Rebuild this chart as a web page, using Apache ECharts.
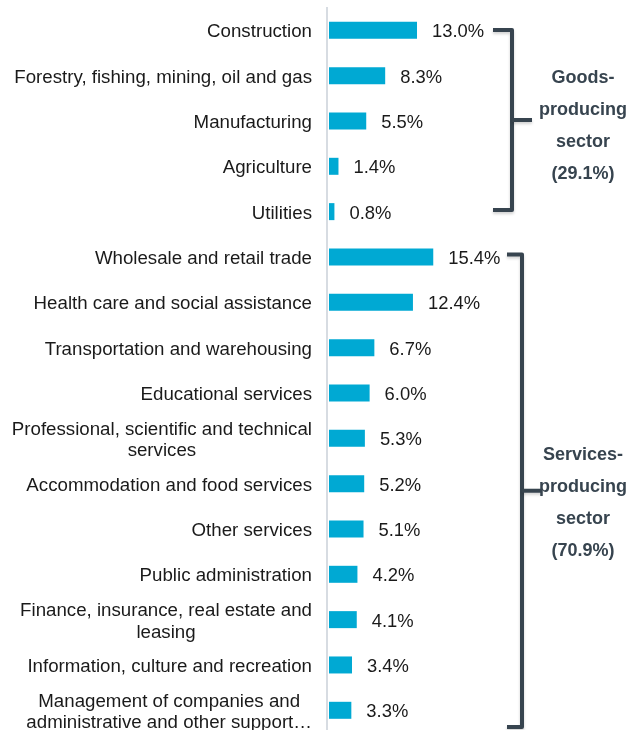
<!DOCTYPE html>
<html>
<head>
<meta charset="utf-8">
<script src="https://cdn.jsdelivr.net/npm/echarts@6/dist/echarts.min.js"></script>
<style>
  html, body { margin: 0; padding: 0; background: #ffffff; }
  #chart { width: 637px; height: 730px; }
</style>
</head>
<body>
<div id="chart"></div>
<script>
// Industries, top to bottom (two-line labels are split with \n)
const industries = [
  'Construction',
  'Forestry, fishing, mining, oil and gas',
  'Manufacturing',
  'Agriculture',
  'Utilities',
  'Wholesale and retail trade',
  'Health care and social assistance',
  'Transportation and warehousing',
  'Educational services',
  'Professional, scientific and technical\nservices',
  'Accommodation and food services',
  'Other services',
  'Public administration',
  'Finance, insurance, real estate and\nleasing',
  'Information, culture and recreation',
  'Management of companies and\nadministrative and other support\u2026'
];

// Share of employment by industry (%)
const shares = [13.0, 8.3, 5.5, 1.4, 0.8, 15.4, 12.4, 6.7, 6.0, 5.3, 5.2, 5.1, 4.2, 4.1, 3.4, 3.3];

// Sector groupings: first and last industry index of each bracket
const sectorNames = ['Goods-\nproducing\nsector', 'Services-\nproducing\nsector'];
const sectorShares = [29.1, 70.9];
const sectorFirst = [0, 5];
const sectorLast = [4, 15];

const FONT = '"Liberation Sans", Arial, Helvetica, sans-serif';
const TEXT = '#1a1a1a';
const BRACE = '#37444f';
const CAT_SIZE = 18.7;
const VAL_SIZE = 18.4;

const chart = echarts.init(document.getElementById('chart'), null, { renderer: 'canvas' });

chart.setOption({
  animation: false,
  backgroundColor: '#ffffff',
  grid: {
    left: 329, top: 30.3, width: 270.8, height: 680,
    containLabel: false, outerBoundsMode: 'none'
  },
  xAxis: { type: 'value', min: 0, max: 40, show: false },
  yAxis: {
    type: 'category',
    inverse: true,
    boundaryGap: false,
    data: industries,
    offset: 2,
    axisTick: { show: false },
    axisLine: { show: false },
    splitLine: { show: false },
    axisLabel: {
      margin: 15,
      fontSize: CAT_SIZE,
      fontFamily: FONT,
      color: TEXT,
      lineHeight: 21.5,
      padding: [4, 0, 0, 0],
      formatter: function (v) {
        if (v.indexOf('\n') < 0) return v;
        return v.split('\n').map(function (s) { return '{c|' + s + '}'; }).join('\n');
      },
      rich: {
        c: { align: 'center', fontSize: CAT_SIZE, fontFamily: FONT, color: TEXT, lineHeight: 21.5 }
      }
    }
  },
  series: [{
    type: 'bar',
    data: shares,
    barWidth: 17,
    itemStyle: { color: '#00a9d3' },
    label: {
      show: true,
      position: 'right',
      distance: 15,
      offset: [0, 2],
      fontSize: VAL_SIZE,
      fontFamily: FONT,
      color: TEXT,
      formatter: function (p) { return p.value.toFixed(1) + '%'; }
    }
  }]
});

// Sector brackets, placed from the category axis positions
function rowY(i) { return chart.convertToPixel({ yAxisIndex: 0 }, i); }

const braces = [
  { x0: 493, xv: 512, xTip: 532, top: rowY(sectorFirst[0]) - 0.3, bottom: rowY(sectorLast[0]) - 1.6, textDy: 6 },
  { x0: 507, xv: 522, xTip: 542, top: rowY(sectorFirst[1]) - 2.5, bottom: rowY(sectorLast[1]) + 16.7, textDy: 12 }
];

const braceStyle = {
  fill: null, stroke: BRACE, lineWidth: 4, lineJoin: 'round', lineCap: 'butt',
  shadowBlur: 3, shadowOffsetY: 2, shadowColor: 'rgba(0,0,0,0.18)'
};

const graphics = [
  // vertical category axis line running the full plot height
  {
    type: 'line',
    shape: { x1: 327, y1: 7, x2: 327, y2: 730 },
    style: { stroke: '#d7dce2', lineWidth: 2 },
    z: 0
  }
];

braces.forEach(function (b, k) {
  const mid = (b.top + b.bottom) / 2;
  graphics.push({
    type: 'polyline',
    shape: { points: [[b.x0, b.top], [b.xv, b.top], [b.xv, b.bottom], [b.x0, b.bottom]] },
    style: braceStyle,
    z: 10
  });
  graphics.push({
    type: 'line',
    shape: { x1: b.xv, y1: mid, x2: b.xTip, y2: mid },
    style: braceStyle,
    z: 10
  });
  graphics.push({
    type: 'text',
    x: 583,
    y: mid + b.textDy,
    style: {
      text: sectorNames[k] + '\n(' + sectorShares[k].toFixed(1) + '%)',
      fill: BRACE,
      font: 'bold 18px ' + FONT,
      lineHeight: 32,
      align: 'center',
      verticalAlign: 'middle'
    },
    z: 11
  });
});

chart.setOption({ graphic: graphics });
</script>
</body>
</html>
